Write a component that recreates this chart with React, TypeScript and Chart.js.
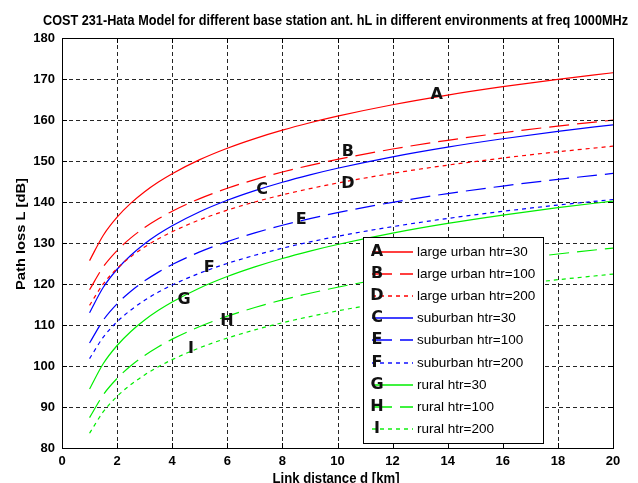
import React, { useEffect, useRef } from "react";
import { Chart, registerables } from "chart.js";

Chart.register(...registerables);

// ---- data ----
const distanceKm = [1, 1.5, 2, 2.5, 3, 3.5, 4, 5, 6, 7, 8, 9, 10, 12, 14, 16, 18, 20];

const largeUrban30 = [125.7, 131.9, 136.3, 139.72, 142.51, 144.87, 146.91, 150.33, 153.12, 155.47, 157.52, 159.32, 160.93, 163.72, 166.08, 168.12, 169.92, 171.53];
const largeUrban100 = [118.6, 124.2, 128.17, 131.25, 133.77, 135.9, 137.75, 140.83, 143.35, 145.47, 147.32, 148.94, 150.4, 152.92, 155.05, 156.89, 158.52, 159.97];
const largeUrban200 = [114.8, 120.05, 123.78, 126.67, 129.03, 131.03, 132.76, 135.65, 138.01, 140.01, 141.74, 143.26, 144.63, 146.99, 148.99, 150.72, 152.25, 153.61];
const suburban30 = [113.0, 119.2, 123.6, 127.02, 129.81, 132.17, 134.21, 137.63, 140.42, 142.77, 144.82, 146.62, 148.23, 151.02, 153.38, 155.42, 157.22, 158.83];
const suburban100 = [105.6, 111.2, 115.17, 118.25, 120.77, 122.9, 124.75, 127.83, 130.35, 132.47, 134.32, 135.94, 137.4, 139.92, 142.05, 143.89, 145.52, 146.97];
const suburban200 = [101.8, 107.05, 110.78, 113.67, 116.03, 118.03, 119.76, 122.65, 125.01, 127.01, 128.74, 130.26, 131.63, 133.99, 135.99, 137.72, 139.25, 140.61];
const rural30 = [94.4, 100.6, 105.0, 108.42, 111.21, 113.57, 115.61, 119.03, 121.82, 124.17, 126.22, 128.02, 129.63, 132.42, 134.78, 136.82, 138.62, 140.23];
const rural100 = [87.4, 93.0, 96.97, 100.05, 102.57, 104.7, 106.55, 109.63, 112.15, 114.27, 116.12, 117.74, 119.2, 121.72, 123.85, 125.69, 127.32, 128.77];
const rural200 = [83.6, 88.85, 92.58, 95.47, 97.83, 99.83, 101.56, 104.45, 106.81, 108.81, 110.54, 112.06, 113.43, 115.79, 117.79, 119.52, 121.05, 122.41];

const seriesLabels = [
  "large urban htr=30",
  "large urban htr=100",
  "large urban htr=200",
  "suburban htr=30",
  "suburban htr=100",
  "suburban htr=200",
  "rural htr=30",
  "rural htr=100",
  "rural htr=200",
];
const seriesLetters = ["A", "B", "D", "C", "E", "F", "G", "H", "I"];
const seriesValues = [largeUrban30, largeUrban100, largeUrban200, suburban30, suburban100, suburban200, rural30, rural100, rural200];
const seriesColors = ["#ff0000", "#ff0000", "#ff0000", "#0000ff", "#0000ff", "#0000ff", "#00ee00", "#00ee00", "#00ee00"];
const dashSolid: number[] = [];
const dashDashed = [20, 8];
const dashDotted = [4, 4];
const seriesDashes = [dashSolid, dashDashed, dashDotted, dashSolid, dashDashed, dashDotted, dashSolid, dashDashed, dashDotted];

// letter annotations placed in data coordinates [distance, loss]
const letterX = [13.6, 10.38, 10.38, 7.26, 8.68, 5.34, 4.43, 5.99, 4.68];
const letterY = [166.1, 152.2, 144.4, 142.9, 135.6, 123.9, 116.1, 111.0, 104.1];

const titleText = "COST 231-Hata Model for different base station ant. hL in different environments at freq 1000MHz";
const xAxisTitle = "Link distance d [km]";
const yAxisTitle = "Path loss L [dB]";
const xMin = 0, xMax = 20, xStep = 2;
const yMin = 80, yMax = 180, yStep = 10;

function drawScaled(ctx: CanvasRenderingContext2D, text: string, cx: number, cy: number, width: number, font: string, rotate = false) {
  ctx.save();
  ctx.font = font;
  const w = ctx.measureText(text).width;
  ctx.translate(cx, cy);
  if (rotate) ctx.rotate(-Math.PI / 2);
  ctx.scale(width / w, 1);
  ctx.textAlign = "center";
  ctx.textBaseline = "middle";
  ctx.fillStyle = "#000";
  ctx.fillText(text, 0, 0);
  ctx.restore();
}

const matlabPlugin = {
  id: "matlabDecor",
  beforeDatasetsDraw(chart: any) {
    const { ctx, chartArea } = chart;
    const { left, right, top, bottom } = chartArea;
    const xs = chart.scales.x;
    const ys = chart.scales.y;
    ctx.save();
    ctx.strokeStyle = "rgba(0,0,0,0.85)";
    ctx.lineWidth = 1;
    ctx.setLineDash([4, 3]);
    for (let v = xMin + xStep; v < xMax; v += xStep) {
      const px = Math.round(xs.getPixelForValue(v)) + 0.5;
      ctx.beginPath();
      ctx.moveTo(px, top);
      ctx.lineTo(px, bottom);
      ctx.stroke();
    }
    for (let v = yMin + yStep; v < yMax; v += yStep) {
      const py = Math.round(ys.getPixelForValue(v)) + 0.5;
      ctx.beginPath();
      ctx.moveTo(left, py);
      ctx.lineTo(right, py);
      ctx.stroke();
    }
    ctx.restore();
  },
  afterDraw(chart: any) {
    const { ctx, chartArea } = chart;
    const { left, right, top, bottom } = chartArea;
    const xs = chart.scales.x;
    const ys = chart.scales.y;
    ctx.save();
    // box
    ctx.strokeStyle = "#000";
    ctx.lineWidth = 1;
    ctx.setLineDash([]);
    ctx.strokeRect(Math.round(left) + 0.5, Math.round(top) + 0.5, Math.round(right - left), Math.round(bottom - top));
    // inward tick marks
    const tl = 5;
    for (let v = xMin + xStep; v < xMax; v += xStep) {
      const px = Math.round(xs.getPixelForValue(v)) + 0.5;
      ctx.beginPath();
      ctx.moveTo(px, bottom);
      ctx.lineTo(px, bottom - tl);
      ctx.moveTo(px, top);
      ctx.lineTo(px, top + tl);
      ctx.stroke();
    }
    for (let v = yMin + yStep; v < yMax; v += yStep) {
      const py = Math.round(ys.getPixelForValue(v)) + 0.5;
      ctx.beginPath();
      ctx.moveTo(left, py);
      ctx.lineTo(left + tl, py);
      ctx.moveTo(right, py);
      ctx.lineTo(right - tl, py);
      ctx.stroke();
    }
    // letters on curves
    ctx.font = "bold 16px 'DejaVu Sans'";
    ctx.textAlign = "center";
    ctx.textBaseline = "middle";
    ctx.fillStyle = "#111";
    for (let i = 0; i < seriesLetters.length; i++) {
      ctx.fillText(seriesLetters[i], xs.getPixelForValue(letterX[i]), ys.getPixelForValue(letterY[i]));
    }
    // legend
    const lx = 363, ly = 237, lw = 180, lh = 206;
    ctx.fillStyle = "#fff";
    ctx.fillRect(lx, ly, lw, lh);
    ctx.strokeStyle = "#000";
    ctx.lineWidth = 1;
    ctx.strokeRect(lx + 0.5, ly + 0.5, lw, lh);
    const rowH = 22.1;
    for (let i = 0; i < seriesLabels.length; i++) {
      const ry = Math.round(ly + 15 + i * rowH);
      ctx.strokeStyle = seriesColors[i];
      ctx.lineWidth = 1.4;
      ctx.setLineDash(seriesDashes[i]);
      ctx.beginPath();
      ctx.moveTo(372, ry);
      ctx.lineTo(413, ry);
      ctx.stroke();
      ctx.setLineDash([]);
      ctx.fillStyle = "#000";
      ctx.font = "13.5px 'Liberation Sans', Arial, sans-serif";
      ctx.textAlign = "left";
      ctx.textBaseline = "middle";
      ctx.fillText(seriesLabels[i], 417, ry);
      ctx.font = "bold 16px 'DejaVu Sans'";
      ctx.textAlign = "center";
      ctx.fillStyle = "#111";
      ctx.fillText(seriesLetters[i], 377, ry);
    }
    ctx.restore();
    // title & axis titles
    drawScaled(ctx, titleText, 335.5, 20.5, 585, "bold 15px 'Liberation Sans', Arial, sans-serif");
    drawScaled(ctx, xAxisTitle, 336, 479, 127, "bold 14px 'Liberation Sans', Arial, sans-serif");
    drawScaled(ctx, yAxisTitle, 21, 234, 112, "bold 13px 'Liberation Sans', Arial, sans-serif", true);
  },
};

export default function App() {
  const canvasRef = useRef<HTMLCanvasElement | null>(null);

  useEffect(() => {
    const canvas = canvasRef.current;
    if (!canvas) return;
    const datasets = seriesValues.map((vals, i) => ({
      label: seriesLabels[i],
      data: distanceKm.map((d, j) => ({ x: d, y: vals[j] })),
      borderColor: seriesColors[i],
      backgroundColor: seriesColors[i],
      borderWidth: 1.2,
      borderDash: seriesDashes[i],
      pointRadius: 0,
      cubicInterpolationMode: "monotone" as const,
      fill: false,
    }));
    const chart = new Chart(canvas, {
      type: "line",
      data: { datasets },
      options: {
        animation: false,
        responsive: false,
        devicePixelRatio: 1,
        layout: { padding: { top: 38, right: 25, left: 0, bottom: 0 } },
        plugins: {
          legend: { display: false },
          title: { display: false },
          tooltip: { enabled: false },
        },
        scales: {
          x: {
            type: "linear",
            min: xMin,
            max: xMax,
            grid: { display: false, drawTicks: false },
            border: { display: false },
            ticks: {
              stepSize: xStep,
              padding: 6,
              color: "#000",
              font: { family: "'Liberation Sans', Arial, sans-serif", size: 13, weight: "bold" },
              maxRotation: 0,
            },
            afterFit: (scale: any) => {
              scale.height = 35;
            },
          },
          y: {
            type: "linear",
            min: yMin,
            max: yMax,
            grid: { display: false, drawTicks: false },
            border: { display: false },
            ticks: {
              stepSize: yStep,
              padding: 7,
              color: "#000",
              font: { family: "'Liberation Sans', Arial, sans-serif", size: 13, weight: "bold" },
            },
            afterFit: (scale: any) => {
              scale.width = 62;
            },
          },
        },
      },
      plugins: [matlabPlugin],
    });
    return () => chart.destroy();
  }, []);

  return (
    <div style={{ position: "fixed", left: 0, top: 0, width: 638, height: 483, background: "#fff" }}>
      <canvas ref={canvasRef} width={638} height={483} style={{ width: 638, height: 483, display: "block" }} />
    </div>
  );
}
